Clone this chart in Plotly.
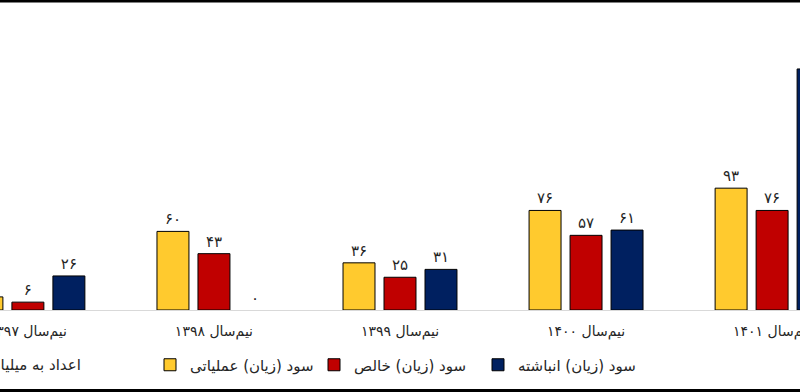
import plotly.graph_objects as go

categories = ["نیم‌سال ۱۳۹۷", "نیم‌سال ۱۳۹۸", "نیم‌سال ۱۳۹۹", "نیم‌سال ۱۴۰۰", "نیم‌سال ۱۴۰۱"]
operating = [10, 60, 36, 76, 93]
net = [6, 43, 25, 57, 76]
accumulated = [26, 0, 31, 61, 184]
series_names = ["سود (زیان) عملیاتی", "سود (زیان) خالص", "سود (زیان) انباشته"]
colors = ["#FFCA2E", "#C00000", "#002060"]
note_text = "اعداد به میلیارد ریال"

FA_DIGITS = str.maketrans("0123456789", "۰۱۲۳۴۵۶۷۸۹")


def fa(v):
    return str(v).translate(FA_DIGITS)


FONT = "DejaVu Sans"
fig = go.Figure()
for name, vals, col in zip(series_names, [operating, net, accumulated], colors):
    fig.add_trace(go.Bar(
        x=categories, y=vals, name=name,
        marker=dict(color=col, line=dict(color="#000000", width=[1 if v else 0 for v in vals])),
        text=[fa(v) for v in vals], textposition="outside",
        textfont=dict(family=FONT, size=15, color="#262626"),
        cliponaxis=False,
    ))

W, H = 800, 392
MT, MB = 0, 82
plot_h = H - MT - MB

fig.update_layout(
    width=W, height=H,
    margin=dict(l=0, r=0, t=MT, b=MB, pad=0, autoexpand=False),
    plot_bgcolor="white", paper_bgcolor="white",
    barmode="group", bargap=0.339, bargroupgap=0.22,
    font=dict(family=FONT, size=14, color="#262626"),
    xaxis=dict(range=[-0.15, 4.15], showline=True, linecolor="#D9D9D9", linewidth=1,
               showgrid=False, zeroline=False, ticks="outside", ticklen=8, tickcolor="rgba(0,0,0,0)",
               automargin=False,
               tickfont=dict(family=FONT, size=14, color="#262626")),
    yaxis=dict(range=[0, plot_h / 1.31], visible=False, showgrid=False, zeroline=False,
               automargin=False),
    showlegend=True,
    legend=dict(orientation="h", x=150 / W, xanchor="left", y=-55 / plot_h, yanchor="middle",
                entrywidth=119, font=dict(family=FONT, size=15, color="#262626"),
                bgcolor="rgba(0,0,0,0)", traceorder="normal"),
    annotations=[dict(text=note_text, xref="paper", yref="paper", x=83 / W, y=-55 / plot_h,
                      xanchor="right", yanchor="middle", showarrow=False,
                      font=dict(family=FONT, size=15, color="#262626"))],
    shapes=[
        dict(type="rect", xref="paper", yref="paper", x0=-0.01, x1=1.01,
             y0=(plot_h - 2.5) / plot_h, y1=1.01, fillcolor="black", line=dict(width=0)),
        dict(type="rect", xref="paper", yref="paper", x0=-0.01, x1=1.01,
             y0=-(MB + 2) / plot_h, y1=-(MB - 3) / plot_h, fillcolor="black", line=dict(width=0)),
    ],
)

fig.write_html("out.html", config={"displayModeBar": False},
               post_script="document.body.style.margin='0';")
